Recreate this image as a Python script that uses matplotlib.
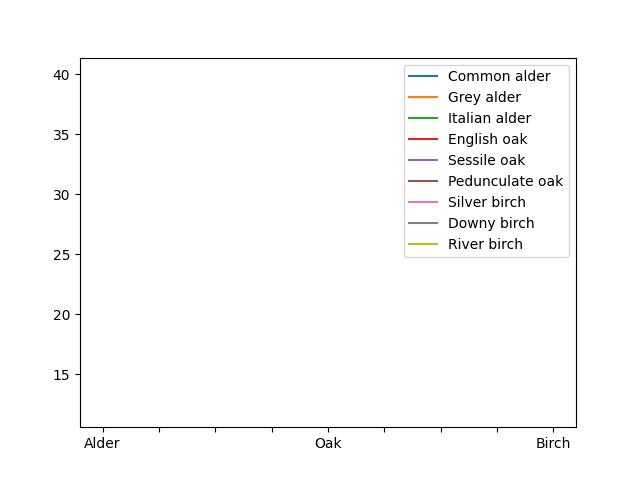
import matplotlib
matplotlib.use("Agg")
import matplotlib.pyplot as plt

species = ["Common alder", "Grey alder", "Italian alder", "English oak", "Sessile oak",
           "Pedunculate oak", "Silver birch", "Downy birch", "River birch"]
heights = [25, 20, 22, 40, 35, 38, 30, 25, 12]
tick_labels = ["Alder", "", "", "", "Oak", "", "", "", "Birch"]

fig, ax = plt.subplots(figsize=(6.4, 4.8), dpi=100)
for i, (name, h) in enumerate(zip(species, heights)):
    ax.plot([i], [h], label=name)
ax.set_xticks(range(len(tick_labels)))
ax.set_xticklabels(tick_labels)
ax.legend(loc="upper right")
fig.savefig("out.png")
